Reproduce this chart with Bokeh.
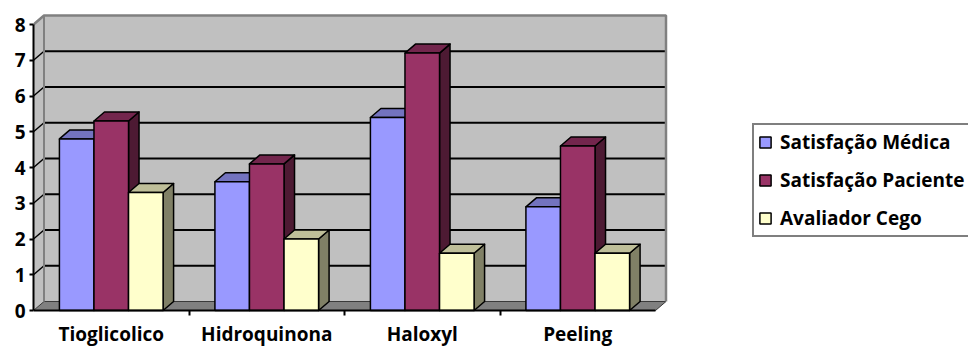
import numpy as np
from bokeh.plotting import figure
from bokeh.models import Range1d, FixedTicker, Legend, LegendItem
from bokeh.embed import file_html
from bokeh.resources import INLINE

# ---------------- data ----------------
categories = ["Tioglicolico", "Hidroquinona", "Haloxyl", "Peeling"]
series_names = ["Satisfação Médica", "Satisfação Paciente", "Avaliador Cego"]
satisfacao_medica = [4.8, 3.6, 5.4, 2.9]
satisfacao_paciente = [5.3, 4.1, 7.2, 4.6]
avaliador_cego = [3.3, 2.0, 1.6, 1.6]
y_ticks = [0, 1, 2, 3, 4, 5, 6, 7, 8]

series_values = [satisfacao_medica, satisfacao_paciente, avaliador_cego]
front_colors = ["#9999FF", "#993366", "#FFFFCC"]
top_colors = ["#7373BF", "#73264D", "#BFBF99"]
side_colors = ["#4D4D80", "#4D1A33", "#808066"]

# ---------------- layout ----------------
W, H = 968, 347
LEFT = 33
FW = W - LEFT
ZERO_PX = 310       # canvas y of value 0
PX_CAT = 155.5      # px per category
PX_UNIT = 35.75     # px per value unit
DX = 10.5 / PX_CAT  # depth offset in x (data units)
DY = 9.0 / PX_UNIT  # depth offset in y (data units)
YMAX = y_ticks[-1]
n_cat = len(categories)
centers = np.arange(1, n_cat + 1)
x_lo, x_hi = 0.5, 0.5 + n_cat

p = figure(width=W, height=H, output_backend="svg", toolbar_location=None,
           x_range=Range1d(0.5, 0.5 + FW / PX_CAT),
           y_range=Range1d(-(H - ZERO_PX) / PX_UNIT, ZERO_PX / PX_UNIT),
           min_border_left=LEFT, min_border_right=0, min_border_top=0,
           min_border_bottom=0)
p.outline_line_color = None
p.grid.visible = False
p.background_fill_color = "white"
p.border_fill_color = "white"

# ---------------- walls & floor ----------------
p.patch([x_lo, x_lo + DX, x_lo + DX, x_lo], [0, DY, YMAX + DY, YMAX],
        fill_color="#C0C0C0", line_color=None)
p.quad(left=[x_lo + DX], right=[x_hi + DX], bottom=[DY], top=[YMAX + DY],
       fill_color="#C0C0C0", line_color=None)
p.patch([x_lo, x_hi, x_hi + DX, x_lo + DX], [0, 0, DY, DY],
        fill_color="#808080", line_color="#3A3A3A", line_width=1)

gl = [t for t in y_ticks if 0 < t < YMAX]
p.segment(x0=[x_lo + DX] * len(gl), y0=[t + DY for t in gl],
          x1=[x_hi + DX] * len(gl), y1=[t + DY for t in gl],
          line_color="black", line_width=2)
p.segment(x0=[x_lo] * len(gl), y0=gl, x1=[x_lo + DX] * len(gl),
          y1=[t + DY for t in gl], line_color="black", line_width=1.5)

p.line([x_lo, x_lo + DX, x_hi + DX, x_hi + DX],
       [YMAX, YMAX + DY, YMAX + DY, DY], line_color="#808080", line_width=2.5)
p.line([x_lo + DX, x_lo + DX], [DY, YMAX + DY], line_color="#808080", line_width=2)

# ---------------- 3D bars ----------------
bw = 1.0 / 4.5
front_renderers = []
for j, vals in enumerate(series_values):
    x0 = centers - 0.5 + bw * (0.75 + j)
    x1 = x0 + bw
    v = np.array(vals, dtype=float)
    sxs = [[a, a + DX, a + DX, a] for a in x1]
    sys_ = [[0, DY, h + DY, h] for h in v]
    p.patches(sxs, sys_, fill_color=side_colors[j], line_color="black", line_width=1.5,
              line_join="round")
    txs = [[a, b, b + DX, a + DX] for a, b in zip(x0, x1)]
    tys = [[h, h, h + DY, h + DY] for h in v]
    p.patches(txs, tys, fill_color=top_colors[j], line_color="black", line_width=1.5,
              line_join="round")
    r = p.quad(left=x0, right=x1, bottom=np.zeros(n_cat), top=v,
               fill_color=front_colors[j], line_color="black", line_width=1.5)
    front_renderers.append(r)

# ---------------- axes ----------------
FONT = "Open Sans"
FSIZE = "19px"

ya = p.yaxis[0]
ya.ticker = FixedTicker(ticks=y_ticks, minor_ticks=[])
ya.bounds = (0, YMAX)
ya.axis_line_color = "black"
ya.axis_line_width = 2
ya.major_tick_out = 4
ya.major_tick_in = 0
ya.major_tick_line_width = 2
ya.minor_tick_out = 0
ya.minor_tick_in = 0
ya.major_label_standoff = 4
ya.major_label_text_font = FONT
ya.major_label_text_font_style = "bold"
ya.major_label_text_font_size = FSIZE
ya.major_label_text_color = "black"

xa = p.xaxis[0]
xa.fixed_location = 0
xa.ticker = FixedTicker(ticks=list(centers), minor_ticks=[1.5, 2.5, 3.5])
xa.bounds = (x_lo, x_hi)
xa.axis_line_color = "black"
xa.axis_line_width = 2
xa.major_tick_out = 0
xa.major_tick_in = 0
xa.minor_tick_out = 5
xa.minor_tick_in = 0
xa.minor_tick_line_width = 2
xa.minor_tick_line_color = "black"
xa.major_label_overrides = {int(c): name for c, name in zip(centers, categories)}
xa.major_label_standoff = 5
xa.major_label_text_font = FONT
xa.major_label_text_font_style = "bold"
xa.major_label_text_font_size = FSIZE
xa.major_label_text_color = "black"

# ---------------- legend ----------------
legend = Legend(
    items=[LegendItem(label=name, renderers=[r]) for name, r in zip(series_names, front_renderers)],
    location=(752 - LEFT, H - 237),
    orientation="vertical",
    border_line_color="black", border_line_width=2,
    background_fill_color="white", background_fill_alpha=1.0,
    glyph_width=14, glyph_height=14, label_height=20, label_width=200,
    label_standoff=8, spacing=12, padding=4, margin=0,
    label_text_font=FONT, label_text_font_style="bold",
    label_text_font_size=FSIZE, label_text_color="black",
)
p.add_layout(legend, "center")

open("out.html", "w").write(file_html(p, INLINE))
